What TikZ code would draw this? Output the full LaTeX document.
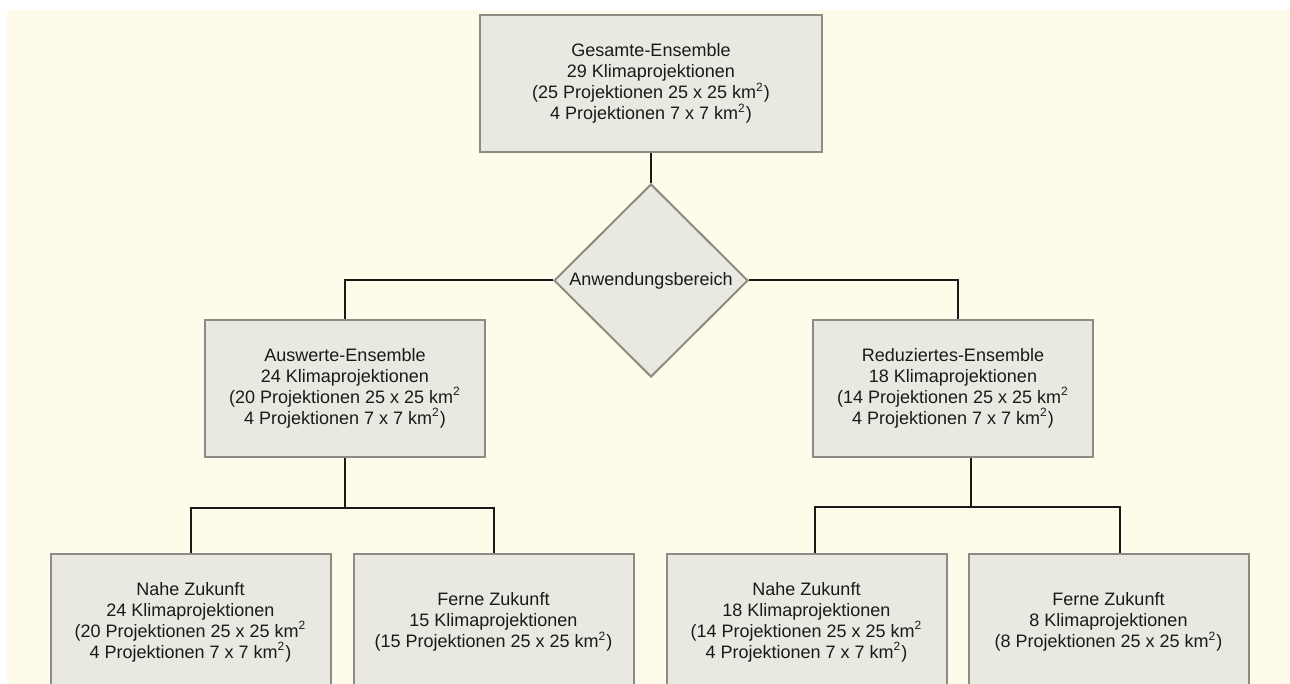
\documentclass[tikz,border=0pt]{standalone}
\usepackage{fontspec}
\setmainfont{Liberation Sans}
\usepackage{tikz}
\usetikzlibrary{positioning,shapes.geometric}
\definecolor{ensBg}{HTML}{FFFBEA}
\definecolor{ensFill}{HTML}{E9E8E1}
\definecolor{ensBorder}{HTML}{8C8C84}
\definecolor{ensInk}{HTML}{1A1A1A}
\newcommand{\qkm}{km\textsuperscript{2}}
\tikzset{
  ensbox/.style={draw=ensBorder, fill=ensFill, line width=1pt, align=center,
                 minimum width=140pt, minimum height=68.5pt, inner sep=2pt,
                 font=\fontsize{9}{10.5}\selectfont, text=ensInk},
  ensdecide/.style={diamond, draw=ensBorder, fill=ensFill, line width=1pt,
                 minimum width=97pt, minimum height=96.5pt, inner sep=0pt,
                 font=\fontsize{9}{10.5}\selectfont, text=ensInk},
  ensline/.style={draw=ensInk, line width=1pt},
}
\begin{document}
\begin{tikzpicture}
    \fill[ensBg] (3.5pt,-5pt) rectangle (645pt,-342pt);
    \useasboundingbox (0,0) rectangle (645pt,-342pt);
    \node[ensbox, minimum width=171pt] (gesamt) at (325.5pt,-41.75pt)
        {Gesamte-Ensemble\\29 Klimaprojektionen\\(25 Projektionen 25 x 25 \qkm)\\4 Projektionen 7 x 7 \qkm)};
    \node[ensdecide, below=15pt of gesamt] (bereich) {Anwendungsbereich};
    \node[ensbox, below left=19pt and 33.5pt of bereich.west] (auswert)
        {Auswerte-Ensemble\\24 Klimaprojektionen\\(20 Projektionen 25 x 25 \qkm\\4 Projektionen 7 x 7 \qkm)};
    \node[ensbox, below right=19pt and 31.5pt of bereich.east] (reduz)
        {Reduziertes-Ensemble\\18 Klimaprojektionen\\(14 Projektionen 25 x 25 \qkm\\4 Projektionen 7 x 7 \qkm)};
    \node[ensbox, below left=47.5pt and 6.75pt of auswert.south] (nahea)
        {Nahe Zukunft\\24 Klimaprojektionen\\(20 Projektionen 25 x 25 \qkm\\4 Projektionen 7 x 7 \qkm)};
    \node[ensbox, right=10.5pt of nahea] (fernea)
        {Ferne Zukunft\\15 Klimaprojektionen\\(15 Projektionen 25 x 25 \qkm)};
    \node[ensbox, below left=47.5pt and 2.75pt of reduz.south] (naheb)
        {Nahe Zukunft\\18 Klimaprojektionen\\(14 Projektionen 25 x 25 \qkm\\4 Projektionen 7 x 7 \qkm)};
    \node[ensbox, right=10pt of naheb] (ferneb)
        {Ferne Zukunft\\8 Klimaprojektionen\\(8 Projektionen 25 x 25 \qkm)};
    \draw[ensline] (gesamt.south) -- (bereich.north);
    \draw[ensline] (bereich.west) -| (auswert.north);
    \draw[ensline] (bereich.east) -| ([xshift=2.25pt]reduz.north);
    \draw[ensline] (auswert.south) -- ++(0,-25pt) coordinate (asplit);
    \draw[ensline] (nahea.north) |- (asplit) -| (fernea.north);
    \draw[ensline] ([xshift=8.75pt]reduz.south) -- ++(0,-24.5pt) coordinate (rsplit);
    \draw[ensline] ([xshift=4pt]naheb.north) |- (rsplit) -| ([xshift=5.5pt]ferneb.north);
  \end{tikzpicture}
\end{document}
